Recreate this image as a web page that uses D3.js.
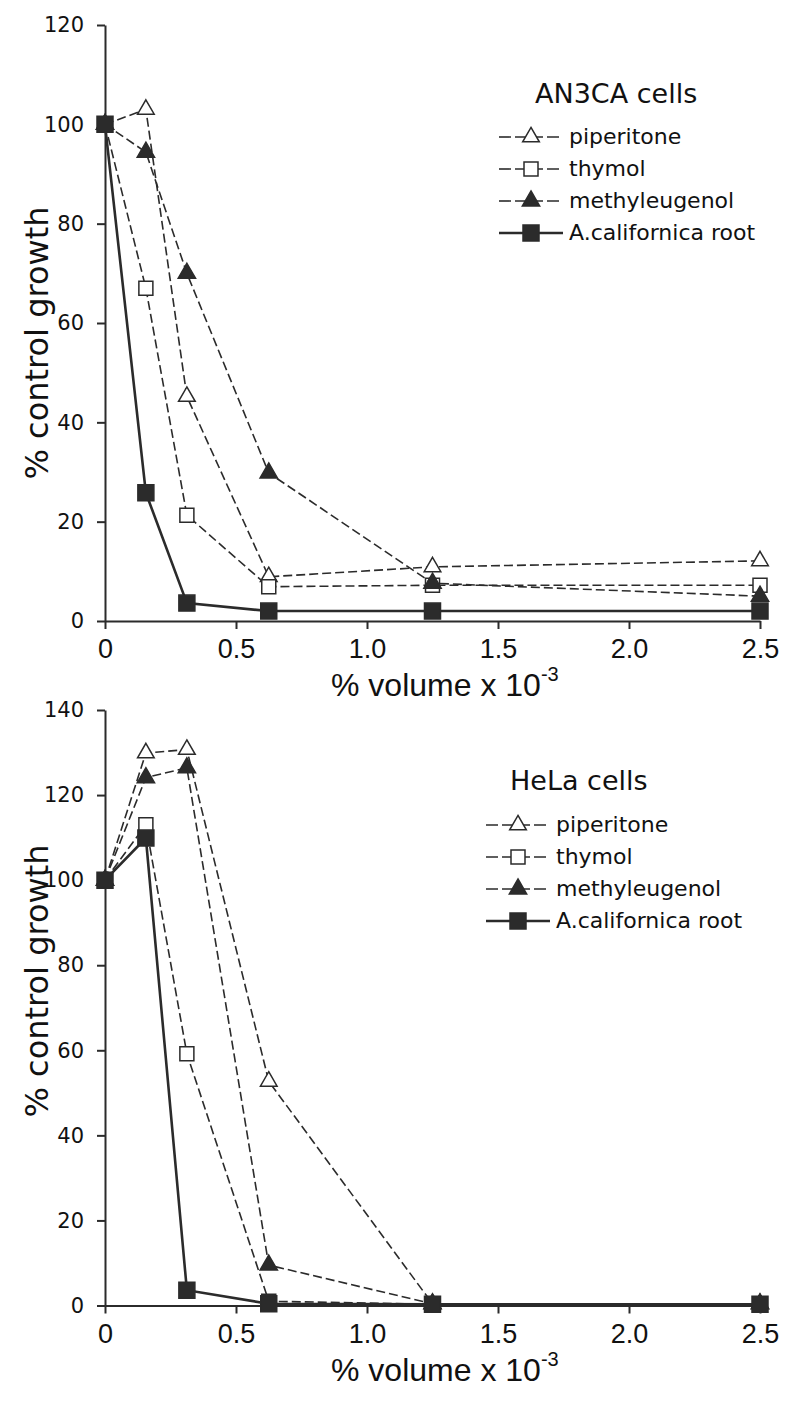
<!DOCTYPE html>
<html>
<head>
<meta charset="utf-8">
<script src="https://cdn.jsdelivr.net/npm/d3@7"></script>
<style>
  body { margin: 0; background: #fff; }
  svg { display: block; }
</style>
</head>
<body>
<div id="chart"></div>
<script>
// concentrations (% volume x 10^-3)
var doses = [0, 0.156, 0.3125, 0.625, 1.25, 2.5];

var seriesNames = ["piperitone", "thymol", "methyleugenol", "A.californica root"];

// AN3CA cells, % control growth
var an3caPiperitone = [100, 103, 45.2, 8.9, 10.9, 12.1];
var an3caThymol = [100, 67, 21.3, 6.9, 7.2, 7.2];
var an3caMethyleugenol = [100, 94.4, 70, 29.8, 7.6, 5];
var an3caRoot = [100, 25.8, 3.6, 2.0, 2.0, 2.0];

// HeLa cells, % control growth
var helaPiperitone = [100, 129.9, 130.7, 52.7, 0.4, 0.4];
var helaThymol = [100, 113, 59.2, 1.0, 0.3, 0.3];
var helaMethyleugenol = [100, 124.1, 126.4, 9.5, 0.4, 0.4];
var helaRoot = [100, 109.9, 3.6, 0.4, 0.3, 0.3];

var xTicks = [0, 0.5, 1.0, 1.5, 2.0, 2.5];
var xTickLabels = ["0", "0.5", "1.0", "1.5", "2.0", "2.5"];
var yTicksTop = [0, 20, 40, 60, 80, 100, 120];
var yTicksBottom = [0, 20, 40, 60, 80, 100, 120, 140];

var ink = "#2b2b2b";

// how each series is drawn
var styles = [
  {shape: d3.symbolTriangle, size: 120, fill: "#fff", dash: "9,4", width: 1.6},
  {shape: d3.symbolSquare, size: 196, fill: "#fff", dash: "9,4", width: 1.6},
  {shape: d3.symbolTriangle, size: 130, fill: ink, dash: "9,4", width: 1.6},
  {shape: d3.symbolSquare, size: 256, fill: ink, dash: null, width: 2.6}
];

var svg = d3.select("#chart").append("svg")
    .attr("width", 800)
    .attr("height", 1405);

function drawPanel(p) {
  var x = d3.scaleLinear().domain([0, 2.5]).range([105, 760]);
  var y = d3.scaleLinear().domain([0, p.yMax]).range([p.bottom, p.top]);

  var g = svg.append("g");

  // x axis
  var xAxis = g.append("g")
      .attr("transform", "translate(0," + p.bottom + ")")
      .call(d3.axisBottom(x).tickValues(xTicks)
        .tickFormat(function(d, i) { return xTickLabels[i]; })
        .tickSize(8).tickSizeOuter(0).tickPadding(10));
  xAxis.selectAll("text")
      .attr("fill", "#111")
      .style("font-family", "'Liberation Sans', Arial, sans-serif")
      .style("font-size", "27px");

  // y axis
  var yAxis = g.append("g")
      .attr("transform", "translate(105,0)")
      .call(d3.axisLeft(y).tickValues(p.yTicks)
        .tickSize(8).tickSizeOuter(0).tickPadding(13));
  yAxis.selectAll("text")
      .attr("fill", "#111")
      .style("font-family", "'DejaVu Sans', Verdana, sans-serif")
      .style("font-size", "21px");

  g.selectAll(".domain, .tick line")
      .attr("stroke", ink)
      .attr("stroke-width", 2);

  // axis titles
  var xt = g.append("text")
      .attr("x", 331)
      .attr("y", p.bottom + 75)
      .attr("fill", "#111")
      .style("font-family", "'Liberation Sans', Arial, sans-serif")
      .style("font-size", "32px")
      .text("% volume x 10");
  xt.append("tspan")
      .attr("dy", -15)
      .style("font-size", "20px")
      .text("-3");

  g.append("text")
      .attr("transform", "translate(48," + p.titleMid + ") rotate(-90)")
      .attr("text-anchor", "middle")
      .attr("fill", "#111")
      .style("font-family", "'DejaVu Sans', Verdana, sans-serif")
      .style("font-size", "32px")
      .text("% control growth");

  // lines and markers
  var line = d3.line()
      .x(function(d) { return x(d[0]); })
      .y(function(d) { return y(d[1]); });

  p.series.forEach(function(vals, k) {
    var st = styles[k];
    var pts = doses.map(function(d, i) { return [d, vals[i]]; });

    g.append("path")
        .datum(pts)
        .attr("d", line)
        .attr("fill", "none")
        .attr("stroke", ink)
        .attr("stroke-width", st.width)
        .attr("stroke-dasharray", st.dash);

    g.selectAll(".m" + k)
        .data(pts)
        .enter()
        .append("path")
        .attr("class", "m" + k)
        .attr("d", d3.symbol().type(st.shape).size(st.size))
        .attr("transform", function(d) { return "translate(" + x(d[0]) + "," + y(d[1]) + ")"; })
        .attr("fill", st.fill)
        .attr("stroke", ink)
        .attr("stroke-width", 1.5);
  });

  // legend
  var lg = p.legend;
  g.append("text")
      .attr("x", lg.titleX)
      .attr("y", lg.titleY)
      .attr("fill", "#111")
      .style("font-family", "'DejaVu Sans', Verdana, sans-serif")
      .style("font-size", "27px")
      .text(p.name);

  seriesNames.forEach(function(name, k) {
    var st = styles[k];
    var cy = lg.rowY + k * 32;
    g.append("line")
        .attr("x1", lg.x0).attr("x2", lg.x0 + 64)
        .attr("y1", cy).attr("y2", cy)
        .attr("stroke", ink)
        .attr("stroke-width", st.width)
        .attr("stroke-dasharray", st.dash ? "12,4" : null);
    g.append("path")
        .attr("d", d3.symbol().type(st.shape).size(st.size))
        .attr("transform", "translate(" + (lg.x0 + 32) + "," + cy + ")")
        .attr("fill", st.fill)
        .attr("stroke", ink)
        .attr("stroke-width", 1.5);
    g.append("text")
        .attr("x", lg.x0 + 70)
        .attr("y", cy + 7)
        .attr("fill", "#111")
        .style("font-family", "'DejaVu Sans', Verdana, sans-serif")
        .style("font-size", "22px")
        .text(name);
  });
}

drawPanel({
  name: "AN3CA cells",
  top: 25, bottom: 621, yMax: 120, yTicks: yTicksTop, titleMid: 343,
  series: [an3caPiperitone, an3caThymol, an3caMethyleugenol, an3caRoot],
  legend: {titleX: 535, titleY: 103, x0: 499, rowY: 137}
});

drawPanel({
  name: "HeLa cells",
  top: 710, bottom: 1305.5, yMax: 140, yTicks: yTicksBottom, titleMid: 981,
  series: [helaPiperitone, helaThymol, helaMethyleugenol, helaRoot],
  legend: {titleX: 510, titleY: 790, x0: 486, rowY: 825}
});
</script>
</body>
</html>
